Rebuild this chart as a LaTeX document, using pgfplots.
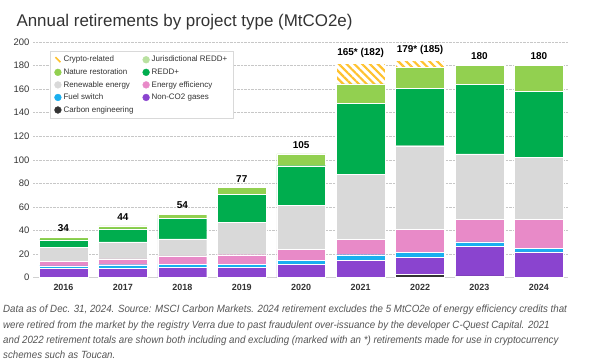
\documentclass[border=0pt]{standalone}
\usepackage{fontspec}
\setmainfont{Liberation Sans}
\usepackage{graphicx}
\usepackage{pgfplots}
\pgfplotsset{compat=1.18}
\usepackage{pgfplotstable}
\usetikzlibrary{patterns.meta}

\definecolor{cCE}{HTML}{333333}
\definecolor{cNon}{HTML}{8A44CF}
\definecolor{cFuel}{HTML}{1AAFEF}
\definecolor{cEE}{HTML}{E88AC8}
\definecolor{cRE}{HTML}{D9D9D9}
\definecolor{cREDD}{HTML}{00AD4E}
\definecolor{cJur}{HTML}{B9E1A0}
\definecolor{cNat}{HTML}{92D050}
\definecolor{cCry}{HTML}{FFC22E}
\definecolor{cTxt}{HTML}{333333}
\definecolor{cNote}{HTML}{555555}

\pgfplotstableread[col sep=comma]{
x,ce,nonco,fuel,ee,re,redd,nature,crypto,total,label
0,0,8,2,4,12,6,2,0,34,34
1,0,8,3,5,14.5,11,2.5,0,44,44
2,0,8.5,3,7,14.5,17.5,3.5,0,54,54
3,0,9,2.5,8,27.5,23.5,6,0,76.5,77
4,0,11.5,3.5,9,37.5,33.5,10,0,105,105
5,0,15,4.5,13,55,60.5,16.5,17.5,182,165* (182)
6,3,14.5,4,19.5,71,48.5,18,6,184.5,179* (185)
7,1.5,25,4,19,55.5,59,16,0,180,180
8,0,22,3,24.5,52.5,56,22,0,180,180
}\data

\pgfplotsset{
  frame/.style={
    at={(33bp,85.3bp)}, anchor=south west,
    scale only axis, width=535bp, height=235.7bp,
    xmin=-0.513, xmax=8.49, ymin=0, ymax=200,
  }
}

\begin{document}
\begin{tikzpicture}
\useasboundingbox (0,0) rectangle (600bp,363bp);
\node[anchor=base west, font=\fontsize{17}{20}\selectfont, text=cTxt] at (13bp,336bp) {Annual retirements by project type (MtCO2e)};
\begin{axis}[
  frame,
  ytick={0,20,...,200},
  xtick={0,...,8},
  xticklabels={2016,2017,2018,2019,2020,2021,2022,2023,2024},
  axis x line*=bottom, axis y line*=left,
  y axis line style={draw=none},
  x axis line style={draw=black!18, line width=0.9bp},
  major tick length=0pt,
  ymajorgrids,
  grid style={densely dotted, black!22, line width=0.6bp},
  /pgf/number format/assume math mode=true,
  yticklabel style={font=\fontsize{9.5}{11}\selectfont, text=cTxt},
  xticklabel style={font=\bfseries\fontsize{9}{11}\selectfont, text=cTxt, yshift=-3bp},
  ybar stacked,
  bar width=0.82,
  every axis plot/.append style={draw=white, line width=0.4bp},
  legend columns=2,
  legend style={at={(0.032,0.962)}, anchor=north west, draw=black!15, fill=white,
    font=\fontsize{8}{9.8}\selectfont, text=cTxt, inner xsep=4bp, inner ysep=3bp,
    row sep=1.3bp, cells={anchor=west},
    /tikz/every even column/.append style={column sep=7bp}},
]
\addlegendimage{legend image code/.code={\draw[cCry, line width=1.6bp] (0.5bp,2.5bp) -- (5.5bp,-2.5bp);}}
\addlegendentry{Crypto-related}
\addlegendimage{legend image code/.code={\fill[cJur] (3bp,0bp) circle (3.4bp);}}
\addlegendentry{Jurisdictional REDD+}
\addlegendimage{legend image code/.code={\fill[cNat] (3bp,0bp) circle (3.4bp);}}
\addlegendentry{Nature restoration}
\addlegendimage{legend image code/.code={\fill[cREDD] (3bp,0bp) circle (3.4bp);}}
\addlegendentry{REDD+}
\addlegendimage{legend image code/.code={\fill[cRE] (3bp,0bp) circle (3.4bp);}}
\addlegendentry{Renewable energy}
\addlegendimage{legend image code/.code={\fill[cEE] (3bp,0bp) circle (3.4bp);}}
\addlegendentry{Energy efficiency}
\addlegendimage{legend image code/.code={\fill[cFuel] (3bp,0bp) circle (3.4bp);}}
\addlegendentry{Fuel switch}
\addlegendimage{legend image code/.code={\fill[cNon] (3bp,0bp) circle (3.4bp);}}
\addlegendentry{Non-CO2 gases}
\addlegendimage{legend image code/.code={\fill[cCE] (3bp,0bp) circle (3.4bp);}}
\addlegendentry{Carbon engineering}

\addplot[fill=cCE, forget plot] table[x=x, y=ce] {\data};
\addplot[fill=cNon, forget plot] table[x=x, y=nonco] {\data};
\addplot[fill=cFuel, forget plot] table[x=x, y=fuel] {\data};
\addplot[fill=cEE, forget plot] table[x=x, y=ee] {\data};
\addplot[fill=cRE, forget plot] table[x=x, y=re] {\data};
\addplot[fill=cREDD, forget plot] table[x=x, y=redd] {\data};
\addplot[fill=cNat, forget plot] table[x=x, y=nature] {\data};
\addplot[fill=white, postaction={pattern={Lines[angle=-45, distance=5.5bp, line width=2.2bp]}, pattern color=cCry}, forget plot]
  table[x=x, y=crypto] {\data};
\end{axis}
\begin{axis}[frame, hide axis]
\addplot[draw=none, mark=none, nodes near coords, point meta=explicit symbolic,
  nodes near coords style={font=\bfseries\fontsize{10}{12}\selectfont, text=black, anchor=south, yshift=2bp}]
  table[x=x, y=total, meta=label] {\data};
\end{axis}
\begin{scope}[every node/.style={anchor=base west, font=\itshape\fontsize{10.5}{12}\selectfont, text=cNote, inner sep=0pt}]
\node at (3bp,50bp) {\scalebox{0.93}[1]{Data as of Dec. 31, 2024. Source: MSCI Carbon Markets. 2024 retirement excludes the 5 MtCO2e of energy efficiency credits that}};
\node at (3bp,35bp) {\scalebox{0.93}[1]{were retired from the market by the registry Verra due to past fraudulent over-issuance by the developer C-Quest Capital. 2021}};
\node at (3bp,20bp) {\scalebox{0.93}[1]{and 2022 retirement totals are shown both including and excluding (marked with an *) retirements made for use in cryptocurrency}};
\node at (3bp,5bp) {\scalebox{0.93}[1]{schemes such as Toucan.}};
\end{scope}
\end{tikzpicture}
\end{document}
